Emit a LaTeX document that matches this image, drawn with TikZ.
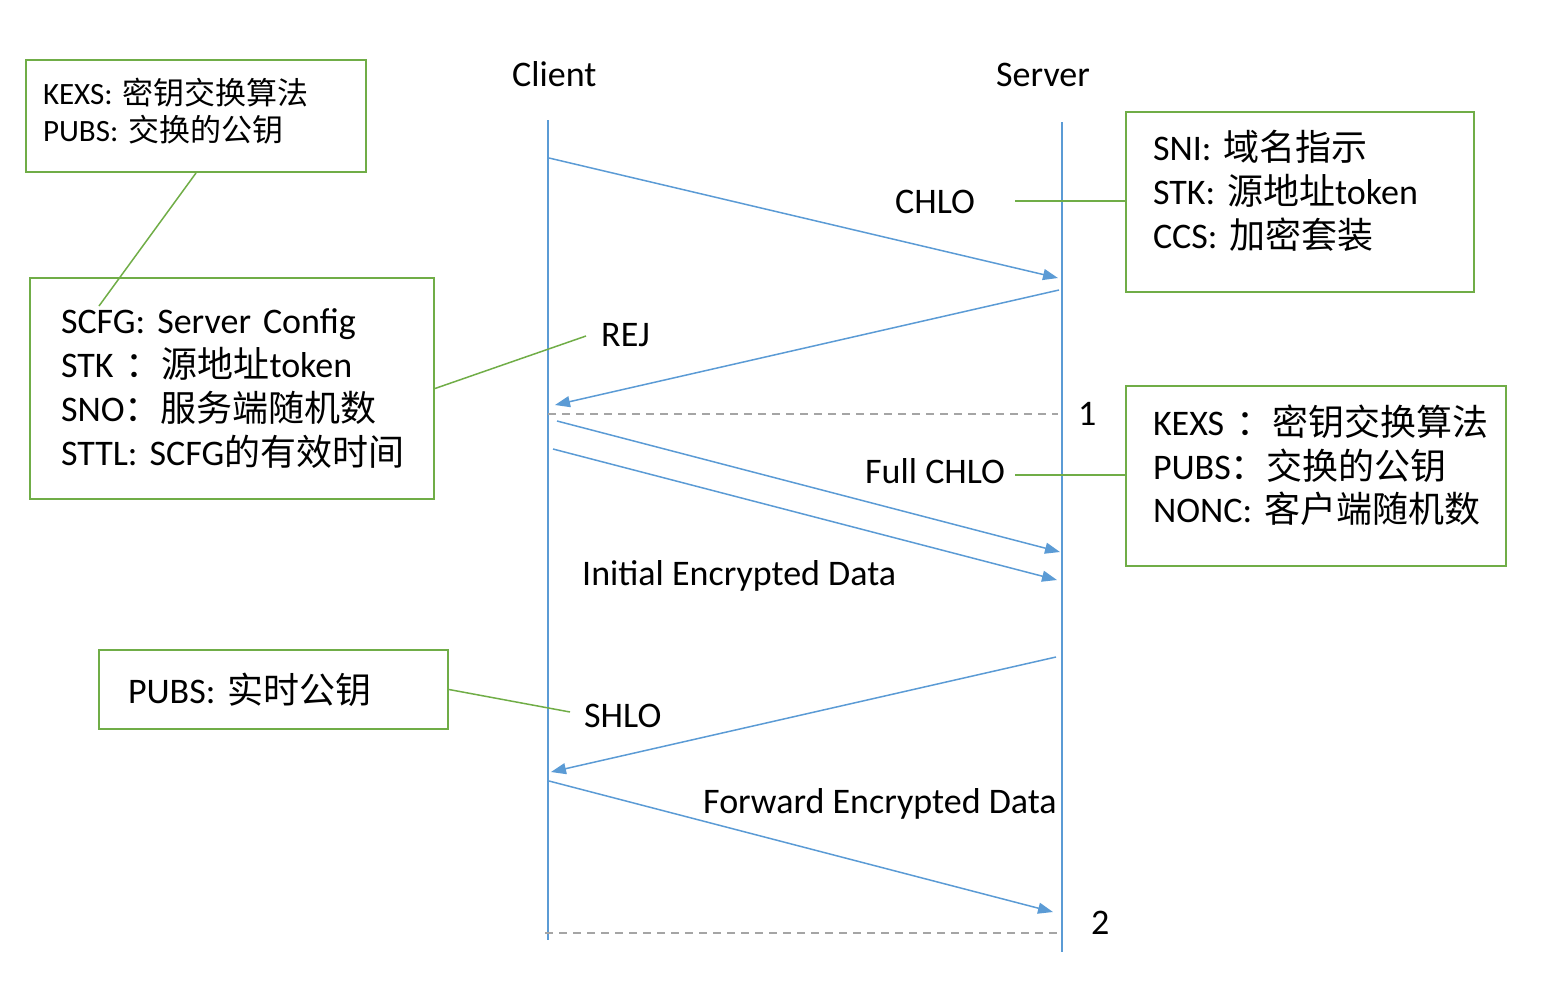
\documentclass[tikz,border=0pt]{standalone}
\usepackage{fontspec}
\setmainfont{Carlito}
\newfontfamily\cjk{Noto Sans CJK SC}
\usetikzlibrary{arrows.meta}
\pgfdeclarelayer{bg}
\pgfsetlayers{bg,main}
\definecolor{lifeblue}{RGB}{91,155,213}
\definecolor{notegreen}{RGB}{112,173,71}
\definecolor{sepgray}{RGB}{165,165,165}
\newcommand{\zh}[1]{{\cjk #1}}
\frenchspacing
\tikzset{
        life/.style={draw=lifeblue, line width=2pt},
        msg/.style={draw=lifeblue, line width=1.5pt, -{Triangle[length=15pt,width=11pt]}},
        lead/.style={draw=notegreen, line width=1.5pt},
        sepline/.style={draw=sepgray, line width=1.5pt, dash pattern=on 8pt off 6pt},
        note/.style={draw=notegreen, line width=2pt, anchor=north west, align=left, inner ysep=0pt},
        lbl/.style={anchor=base west, inner sep=0pt},
}

\begin{document}
\begin{tikzpicture}[x=1pt, y=-1pt, font=\fontsize{36}{43.7}\selectfont]
        \useasboundingbox (0,0) rectangle (1548,1002);
        \node (client) [lbl] at (512,86) {Client};
        \node (server) [lbl] at (996,86) {Server};
        \coordinate (ctop) at (548,120);
        \coordinate (cbot) at (548,940);
        \coordinate (stop) at (1062,122);
        \coordinate (sbot) at (1062,952);
        \coordinate (c1) at (549,158);
        \coordinate (s1) at (1058,278);
        \coordinate (s2) at (1059,290);
        \coordinate (c2) at (555,405);
        \coordinate (c3) at (557,421);
        \coordinate (s3) at (1060,552);
        \coordinate (c4) at (553,449);
        \coordinate (s4) at (1057,580);
        \coordinate (s5) at (1056,657);
        \coordinate (c5) at (551,772);
        \coordinate (c6) at (549,781);
        \coordinate (s6) at (1053,912);
        \coordinate (d1a) at (548,414);
        \coordinate (d1b) at (1058,414);
        \coordinate (d2a) at (545,933);
        \coordinate (d2b) at (1057,933);
        \node (chlo) [lbl] at (895,213) {CHLO};
        \node (rej) [lbl] at (601,346) {REJ};
        \node (n1) [lbl] at (1078,425) {1};
        \node (fchlo) [lbl] at (865,483) {Full CHLO};
        \node (ied) [lbl] at (582,585) {Initial Encrypted Data};
        \node (shlo) [lbl] at (584,727) {SHLO};
        \node (fed) [lbl] at (703,813) {Forward Encrypted Data};
        \node (n2) [lbl] at (1091,934) {2};
        \node (kx) [note, font=\fontsize{31}{37}\selectfont, inner xsep=17pt, text width=306pt, minimum height=112pt, text depth=49pt] at (25,59)
                {\mbox{KEXS: \zh{密钥交换算法}}\\\mbox{PUBS: \zh{交换的公钥}}};
        \node (scfg) [note, inner xsep=31pt, text width=342pt, minimum height=221pt] at (29,277)
                {\mbox{SCFG: Server Config}\\\mbox{STK \zh{：}\zh{源地址}token}\\\mbox{SNO\zh{：服务端随机数}}\\\mbox{STTL: SCFG\zh{的有效时间}}};
        \node (sni) [note, inner xsep=27pt, text width=294pt, minimum height=180pt, text depth=113pt] at (1125,111)
                {\mbox{SNI: \zh{域名指示}}\\\mbox{STK: \zh{源地址}token}\\\mbox{CCS: \zh{加密套装}}};
        \node (kexs) [note, inner xsep=27pt, text width=326pt, minimum height=180pt, text depth=112pt] at (1125,385)
                {\mbox{KEXS \zh{：}\zh{密钥交换算法}}\\\mbox{PUBS\zh{：交换的公钥}}\\\mbox{NONC: \zh{客户端随机数}}};
        \node (pubs) [note, inner xsep=29pt, text width=291pt, minimum height=79pt] at (98,649)
                {\mbox{PUBS: \zh{实时公钥}}};
        \coordinate (g1) at (1015,201);
        \coordinate (g2) at (1015,475);
        \coordinate (g3) at (586,336);
        \coordinate (g4) at (570,712);
        \coordinate (g5) at (99,306);
        \begin{pgfonlayer}{bg}
                \draw [life] (ctop) -- (cbot);
                \draw [life] (stop) -- (sbot);
                \draw [msg] (c1) -- (s1);
                \draw [msg] (s2) -- (c2);
                \draw [msg] (c3) -- (s3);
                \draw [msg] (c4) -- (s4);
                \draw [msg] (s5) -- (c5);
                \draw [msg] (c6) -- (s6);
                \draw [sepline] (d1a) -- (d1b);
                \draw [sepline] (d2a) -- (d2b);
                \draw [lead] (g1) -- (g1 -| sni.west);
                \draw [lead] (g2) -- (g2 -| kexs.west);
                \draw [lead] (g3) -- (scfg.east);
                \draw [lead] (g4) -- (pubs.east);
                \draw [lead] (kx.south) -- (g5);
        \end{pgfonlayer}
\end{tikzpicture}
\end{document}
